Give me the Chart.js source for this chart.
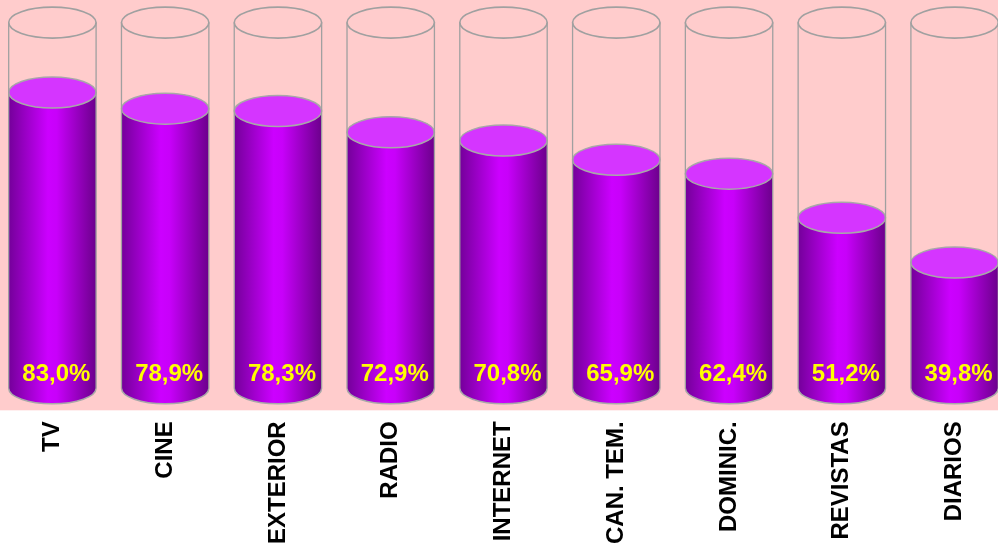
<!DOCTYPE html>
<html>
<head>
<meta charset="utf-8">
<script src="https://cdn.jsdelivr.net/npm/chart.js@4"></script>
<style>
  body { margin: 0; background: #fff; overflow: hidden; }
  #wrap { position: absolute; left: -4px; top: 0; width: 1015px; height: 546px; }
</style>
</head>
<body>
<div id="wrap"><canvas id="chart"></canvas></div>
<script>
const categories = ["TV", "CINE", "EXTERIOR", "RADIO", "INTERNET", "CAN. TEM.", "DOMINIC.", "REVISTAS", "DIARIOS"];
const values = [83.0, 78.9, 78.3, 72.9, 70.8, 65.9, 62.4, 51.2, 39.8];
const valueLabels = ["83,0%", "78,9%", "78,3%", "72,9%", "70,8%", "65,9%", "62,4%", "51,2%", "39,8%"];

const ry = 15.5;

// pink plot background
const bgPlugin = {
  id: "bg",
  beforeDraw(chart) {
    const ctx = chart.ctx;
    ctx.save();
    ctx.fillStyle = "#FFCCCC";
    ctx.fillRect(0, 0, chart.width, chart.chartArea.bottom - 9);
    ctx.restore();
  }
};

// glass tubes + liquid cylinders
const cylPlugin = {
  id: "cyl",
  afterDatasetsDraw(chart) {
    const ctx = chart.ctx;
    const meta = chart.getDatasetMeta(0);
    const yScale = chart.scales.y;
    const glassTop = yScale.getPixelForValue(100) - 3;
    const baseY = chart.chartArea.bottom - 31;
    ctx.save();
    meta.data.forEach((bar, i) => {
      const cx = bar.x;
      const rx = bar.width / 2;
      const topY = bar.y;
      const left = cx - rx, right = cx + rx;

      // liquid body
      const grad = ctx.createLinearGradient(left, 0, right, 0);
      grad.addColorStop(0, "#74009A");
      grad.addColorStop(0.45, "#CC00FF");
      grad.addColorStop(0.55, "#C800FA");
      grad.addColorStop(1, "#6C008C");
      ctx.beginPath();
      ctx.moveTo(left, topY);
      ctx.lineTo(left, baseY);
      ctx.ellipse(cx, baseY, rx, ry, 0, Math.PI, 0, true);
      ctx.lineTo(right, topY);
      ctx.ellipse(cx, topY, rx, ry, 0, 0, Math.PI, true);
      ctx.closePath();
      ctx.fillStyle = grad;
      ctx.fill();

      // bottom rim
      ctx.beginPath();
      ctx.ellipse(cx, baseY, rx, ry, 0, Math.PI, 0, true);
      ctx.strokeStyle = "#A8A8A8";
      ctx.lineWidth = 1.5;
      ctx.stroke();

      // liquid top
      ctx.beginPath();
      ctx.ellipse(cx, topY, rx, ry, 0, 0, Math.PI * 2);
      ctx.fillStyle = "#D535FF";
      ctx.fill();
      ctx.strokeStyle = "#A8A8A8";
      ctx.lineWidth = 1.5;
      ctx.stroke();

      // glass tube
      ctx.beginPath();
      ctx.moveTo(left, glassTop);
      ctx.lineTo(left, baseY);
      ctx.moveTo(right, glassTop);
      ctx.lineTo(right, baseY);
      ctx.strokeStyle = "#A0A0A0";
      ctx.lineWidth = 1.3;
      ctx.stroke();
      ctx.beginPath();
      ctx.ellipse(cx, glassTop, rx, ry, 0, 0, Math.PI * 2);
      ctx.lineWidth = 1.6;
      ctx.stroke();

      // value label
      ctx.fillStyle = "#FFFF00";
      ctx.font = "bold 24px 'Liberation Sans', Arial, sans-serif";
      ctx.textAlign = "center";
      ctx.textBaseline = "middle";
      ctx.fillText(valueLabels[i], cx + 4, baseY - 14);
    });
    ctx.restore();
  }
};

new Chart(document.getElementById("chart"), {
  type: "bar",
  data: {
    labels: categories,
    datasets: [{
      data: values,
      backgroundColor: "rgba(0,0,0,0)",
      categoryPercentage: 1,
      barPercentage: 0.775
    }]
  },
  options: {
    responsive: true,
    maintainAspectRatio: false,
    animation: false,
    layout: { padding: { top: 25.6, bottom: 0, left: 0, right: 0 } },
    plugins: { legend: { display: false }, tooltip: { enabled: false } },
    scales: {
      y: { display: false, min: 0, max: 100 },
      x: {
        grid: { display: false, drawTicks: false },
        border: { display: false },
        ticks: {
          color: "#000",
          font: { family: "'Liberation Sans', Arial, sans-serif", size: 24, weight: "bold" },
          minRotation: 90,
          maxRotation: 90,
          padding: 2,
          autoSkip: false
        }
      }
    }
  },
  plugins: [bgPlugin, cylPlugin]
});
</script>
</body>
</html>
